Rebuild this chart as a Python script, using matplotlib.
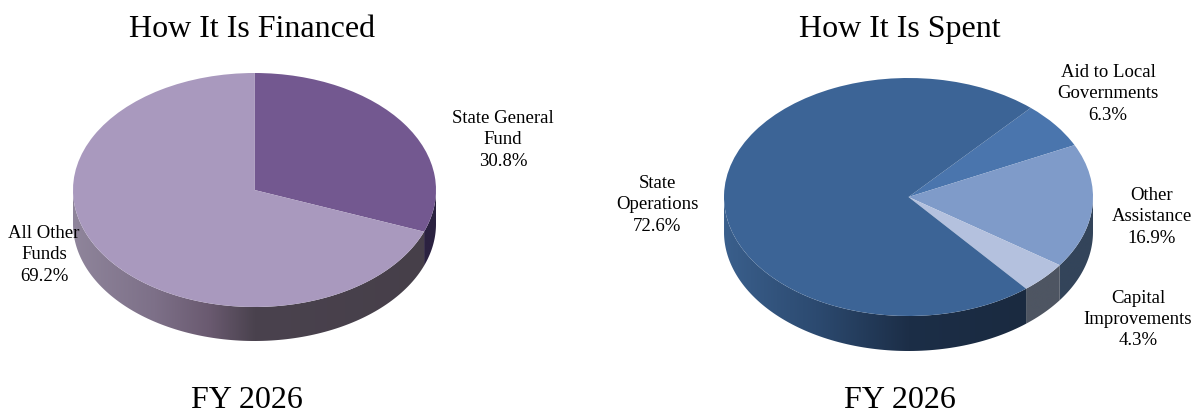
import numpy as np
import matplotlib
matplotlib.use('Agg')
import matplotlib.pyplot as plt
from matplotlib.colors import to_rgb
from matplotlib.patches import Polygon

plt.rcParams['font.family'] = ['Liberation Serif', 'DejaVu Serif']

W, H = 1198, 414

fin_values = [30.8, 69.2]
fin_colors = ['#735890', '#a999be']
fin_sides = [
    [(-1, '#2b2240'), (1, '#2b2240')],
    [(-1, '#8f859b'), (-0.55, '#7d7088'), (-0.25, '#6a5a70'), (0.0, '#4a424e'), (1, '#463f49')],
]

spent_names = ['Aid to Local Governments', 'Other Assistance', 'Capital Improvements', 'State Operations']
spent_values = [6.3, 16.9, 4.3, 72.6]
spent_colors = ['#4a75ad', '#7f9bc9', '#b4c1de', '#3c6496']
spent_sides = [
    [(-1, '#33445a'), (1, '#33445a')],
    [(-1, '#33445a'), (1, '#33445a')],
    [(-1, '#4e5562'), (1, '#4e5562')],
    [(-1, '#3a5f8c'), (-0.5, '#2c4a70'), (0.0, '#1c2e47'), (1, '#19283c')],
]

fig = plt.figure(figsize=(W / 100, H / 100), dpi=100)


def px_text(x, y, s, size, va='center'):
    fig.text(x / W, 1 - y / H, s, ha='center', va=va, fontsize=size,
             color='black', zorder=10, linespacing=1.33)


def side_image(stops):
    xs = [s[0] for s in stops]
    rgb = np.array([to_rgb(s[1]) for s in stops])
    grid = np.linspace(-1, 1, 400)
    return np.dstack([np.interp(grid, xs, rgb[:, i]) for i in range(3)])


def draw_pie(cx, cy, rx, ry, depth, values, colors, sides, start):
    ax = fig.add_axes([(cx - rx) / W, 1 - (cy + ry + depth) / H,
                       2 * rx / W, (2 * ry + depth) / H])
    d = depth / ry
    ang = start
    for val, stops in zip(values, sides):
        a0 = np.radians(ang)
        a1 = np.radians(ang - val / sum(values) * 360)
        t = np.linspace(a0, a1, 200)
        t = t[np.sin(t) <= 0]
        ang -= val / sum(values) * 360
        if len(t) < 2:
            continue
        top = np.column_stack([np.cos(t), np.sin(t)])
        bottom = np.column_stack([np.cos(t), np.sin(t) - d])[::-1]
        poly = Polygon(np.vstack([top, bottom]), closed=True, transform=ax.transData)
        im = ax.imshow(side_image(stops), extent=(-1, 1, -1 - d, 1), aspect='auto',
                       interpolation='bilinear', zorder=1)
        im.set_clip_path(poly)
    ax.pie(values, colors=colors, startangle=start, counterclock=False,
           radius=1, wedgeprops={'linewidth': 0, 'zorder': 2})
    ax.set_aspect('auto')
    ax.set_xlim(-1, 1)
    ax.set_ylim(-1 - d, 1)
    ax.axis('off')
    return ax


draw_pie(254.5, 191, 181.5, 117, 34, fin_values, fin_colors, fin_sides, 90)
draw_pie(908.5, 198, 184.5, 119, 35, spent_values, spent_colors, spent_sides, 48.5)

px_text(252, 37, 'How It Is Financed', 23, va='baseline')
px_text(900, 37, 'How It Is Spent', 23, va='baseline')
px_text(247, 408, 'FY 2026', 23, va='baseline')
px_text(900, 408, 'FY 2026', 23, va='baseline')

px_text(503, 140, 'State General\nFund\n30.8%', 13.5)
px_text(44, 255, 'All Other\nFunds\n69.2%', 13.5)
px_text(1108, 94, 'Aid to Local\nGovernments\n6.3%', 13.5)
px_text(1152, 217, 'Other\nAssistance\n16.9%', 13.5)
px_text(1138, 319.5, 'Capital\nImprovements\n4.3%', 13.5)
px_text(657, 205, 'State\nOperations\n72.6%', 13.5)

fig.savefig('out.png', dpi=100)
